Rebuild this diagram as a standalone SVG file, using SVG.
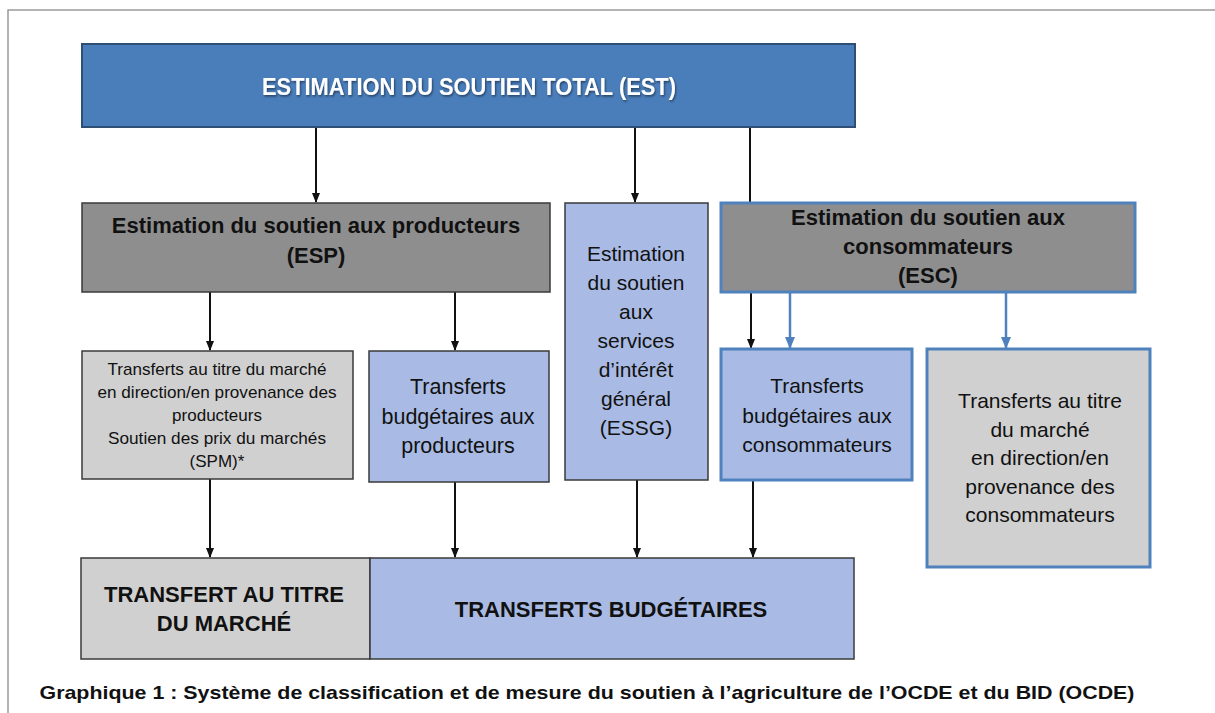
<svg xmlns="http://www.w3.org/2000/svg" width="1215" height="713" viewBox="0 0 1215 713">
<style>
  .t { font-family: "Liberation Sans", Arial, sans-serif; fill: #111; text-anchor: middle; }
  .b { font-weight: bold; }
  .dk { stroke: #3a3a3a; stroke-width: 1.5; }
  .bl { stroke: #4F81BD; stroke-width: 3; }
  .conn { stroke: #111; stroke-width: 2; fill: none; }
  .connb { stroke: #4F81BD; stroke-width: 2.5; fill: none; }
</style>
<defs>
  <marker id="ah" markerWidth="10" markerHeight="10" refX="9" refY="5" orient="auto" markerUnits="userSpaceOnUse">
    <path d="M0,1 L10,5 L0,9 z" fill="#111"/>
  </marker>
  <marker id="ahb" markerWidth="12" markerHeight="12" refX="11" refY="6" orient="auto" markerUnits="userSpaceOnUse">
    <path d="M0,1 L12,6 L0,11 z" fill="#4F81BD"/>
  </marker>
  <filter id="sh" x="-5%" y="-20%" width="110%" height="140%">
    <feDropShadow dx="1" dy="1.5" stdDeviation="0.8" flood-color="#000" flood-opacity="0.5"/>
  </filter>
</defs>
<rect x="0" y="0" width="1215" height="713" fill="#fff"/>
<rect x="8" y="10" width="1230" height="730" fill="none" stroke="#9a9a9a" stroke-width="1.5"/>

<g id="connectors">
  <line class="conn" x1="316" y1="127" x2="316" y2="202" marker-end="url(#ah)"/>
  <line class="conn" x1="635" y1="127" x2="635" y2="202" marker-end="url(#ah)"/>
  <line class="conn" x1="750" y1="127" x2="750" y2="205"/>
  <line class="conn" x1="751" y1="292" x2="751" y2="348" marker-end="url(#ah)"/>
  <line class="conn" x1="210" y1="292" x2="210" y2="350" marker-end="url(#ah)"/>
  <line class="conn" x1="455" y1="292" x2="455" y2="350" marker-end="url(#ah)"/>
  <line class="connb" x1="790" y1="292" x2="790" y2="348" marker-end="url(#ahb)"/>
  <line class="connb" x1="1006" y1="292" x2="1006" y2="348" marker-end="url(#ahb)"/>
  <line class="conn" x1="210" y1="479" x2="210" y2="557" marker-end="url(#ah)"/>
  <line class="conn" x1="455" y1="482" x2="455" y2="557" marker-end="url(#ah)"/>
  <line class="conn" x1="637" y1="480" x2="637" y2="557" marker-end="url(#ah)"/>
  <line class="conn" x1="753" y1="480" x2="753" y2="557" marker-end="url(#ah)"/>
</g>

<g id="est">
  <rect x="82" y="44" width="773" height="83" fill="#4A7EBB" stroke="#2F4E74" stroke-width="2"/>
  <text class="t b" x="469" y="95" font-size="23" fill="#fff" style="fill:#fff" textLength="414" lengthAdjust="spacingAndGlyphs" filter="url(#sh)">ESTIMATION DU SOUTIEN TOTAL (EST)</text>
</g>

<g id="esp">
  <rect x="82" y="203" width="468" height="89" fill="#8E8E8E" class="dk"/>
  <text class="t b" x="316" y="233" font-size="22">Estimation du soutien aux producteurs</text>
  <text class="t b" x="316" y="263" font-size="22">(ESP)</text>
</g>

<g id="essg">
  <rect x="565" y="203" width="143" height="277" fill="#A9BBE4" class="dk"/>
  <text class="t" x="636" y="261" font-size="21">Estimation</text>
  <text class="t" x="636" y="290" font-size="21">du soutien</text>
  <text class="t" x="636" y="319" font-size="21">aux</text>
  <text class="t" x="636" y="348" font-size="21">services</text>
  <text class="t" x="636" y="377" font-size="21">d’intérêt</text>
  <text class="t" x="636" y="406" font-size="21">général</text>
  <text class="t" x="636" y="435" font-size="21">(ESSG)</text>
</g>

<g id="esc">
  <rect x="721" y="203" width="414" height="89" fill="#8E8E8E" class="bl"/>
  <text class="t b" x="928" y="225" font-size="22">Estimation du soutien aux</text>
  <text class="t b" x="928" y="254" font-size="22">consommateurs</text>
  <text class="t b" x="928" y="283" font-size="22">(ESC)</text>
</g>

<g id="tm-prod">
  <rect x="82" y="351" width="271" height="128" fill="#D0D0D0" class="dk"/>
  <text class="t" x="217" y="375" font-size="17" textLength="219" lengthAdjust="spacingAndGlyphs">Transferts au titre du marché</text>
  <text class="t" x="217" y="398" font-size="17" textLength="239" lengthAdjust="spacingAndGlyphs">en direction/en provenance des</text>
  <text class="t" x="217" y="421" font-size="17">producteurs</text>
  <text class="t" x="217" y="444" font-size="17" textLength="218" lengthAdjust="spacingAndGlyphs">Soutien des prix du marchés</text>
  <text class="t" x="217" y="467" font-size="17">(SPM)*</text>
</g>

<g id="tb-prod">
  <rect x="369" y="351" width="180" height="131" fill="#A9BBE4" class="dk"/>
  <text class="t" x="458" y="394" font-size="21.5">Transferts</text>
  <text class="t" x="458" y="424" font-size="21.5">budgétaires aux</text>
  <text class="t" x="458" y="453" font-size="21.5">producteurs</text>
</g>

<g id="tb-cons">
  <rect x="721" y="349" width="191" height="131" fill="#A9BBE4" class="bl"/>
  <text class="t" x="817" y="393" font-size="21">Transferts</text>
  <text class="t" x="817" y="423" font-size="21">budgétaires aux</text>
  <text class="t" x="817" y="452" font-size="21">consommateurs</text>
</g>

<g id="tm-cons">
  <rect x="927" y="349" width="223" height="218" fill="#D0D0D0" class="bl"/>
  <text class="t" x="1040" y="408" font-size="21">Transferts au titre</text>
  <text class="t" x="1040" y="437" font-size="21">du marché</text>
  <text class="t" x="1040" y="465" font-size="21">en direction/en</text>
  <text class="t" x="1040" y="494" font-size="21">provenance des</text>
  <text class="t" x="1040" y="522" font-size="21">consommateurs</text>
</g>

<g id="transfert-marche">
  <rect x="81" y="558" width="289" height="101" fill="#D0D0D0" class="dk"/>
  <text class="t b" x="224" y="602" font-size="22">TRANSFERT AU TITRE</text>
  <text class="t b" x="224" y="631" font-size="22">DU MARCHÉ</text>
</g>

<g id="transferts-budgetaires">
  <rect x="370" y="558" width="484" height="101" fill="#A9BBE4" class="dk"/>
  <text class="t b" x="611" y="617" font-size="22">TRANSFERTS BUDGÉTAIRES</text>
</g>

<text class="t b" x="587" y="699" font-size="19" textLength="1095" lengthAdjust="spacingAndGlyphs">Graphique 1 : Système de classification et de mesure du soutien à l’agriculture de l’OCDE et du BID (OCDE)</text>
</svg>
